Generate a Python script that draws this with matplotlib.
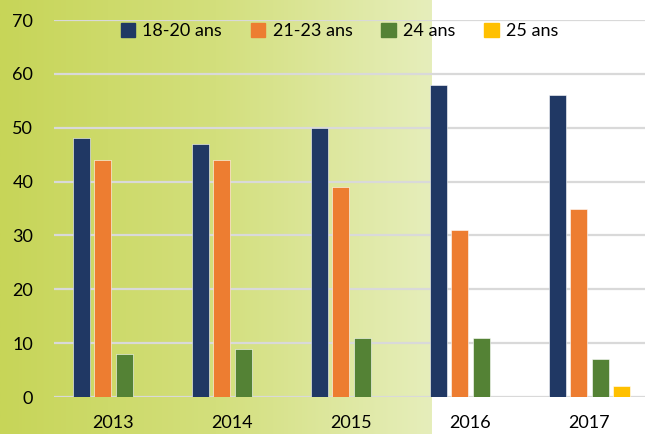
import matplotlib.pyplot as plt
import numpy as np
from matplotlib.colors import LinearSegmentedColormap
from matplotlib.patches import Patch

# données
years = ['2013', '2014', '2015', '2016', '2017']
groups = ['18-20 ans', '21-23 ans', '24 ans', '25 ans']
v_18_20 = [48, 47, 50, 58, 56]
v_21_23 = [44, 44, 39, 31, 35]
v_24 = [8, 9, 11, 11, 7]
v_25 = [0, 0, 0, 0, 2]
colors = ['#203864', '#ed7d31', '#548235', '#ffc000']

plt.rcParams['font.family'] = ['Lato', 'DejaVu Sans']

fig = plt.figure(figsize=(6.45, 4.34), dpi=100)

# fond dégradé à gauche
bg = fig.add_axes([0, 0, 432 / 645, 1])
cmap = LinearSegmentedColormap.from_list('g', ['#c7d558', '#d3df7c', '#e6eebb'])
bg.imshow(np.linspace(0, 1, 256).reshape(1, -1), aspect='auto', cmap=cmap, extent=[0, 1, 0, 1])
bg.axis('off')

ax = fig.add_axes([54 / 645, 37 / 434, 595 / 645, 377 / 434])
ax.patch.set_alpha(0)

x = np.arange(len(years))
step = 0.182
w = 0.143
series = [v_18_20, v_21_23, v_24, v_25]
for i, (vals, c) in enumerate(zip(series, colors)):
    ax.bar(x + (i - 1.5) * step, vals, width=w, color=c, label=groups[i], zorder=3,
           edgecolor='white', linewidth=0.4)

ax.set_xlim(-0.5, 4.5)
ax.set_ylim(0, 70)
ax.set_yticks(range(0, 71, 10))
ax.set_xticks(x)
ax.set_xticklabels(years)
ax.grid(axis='y', color='#d9d9d9', linewidth=1.6, zorder=0)
for s in ax.spines.values():
    s.set_visible(False)
ax.tick_params(axis='y', length=0, pad=15, labelsize=13)
ax.tick_params(axis='x', length=0, pad=13, labelsize=13)

handles = [Patch(color=c) for c in colors]
ax.legend(handles, groups, loc='upper center', bbox_to_anchor=(0.48, 1.035), ncol=4, frameon=False,
          fontsize=13, handlelength=0.8, handleheight=0.8, handletextpad=0.4, columnspacing=1.6)

plt.savefig('out.png', dpi=100)
